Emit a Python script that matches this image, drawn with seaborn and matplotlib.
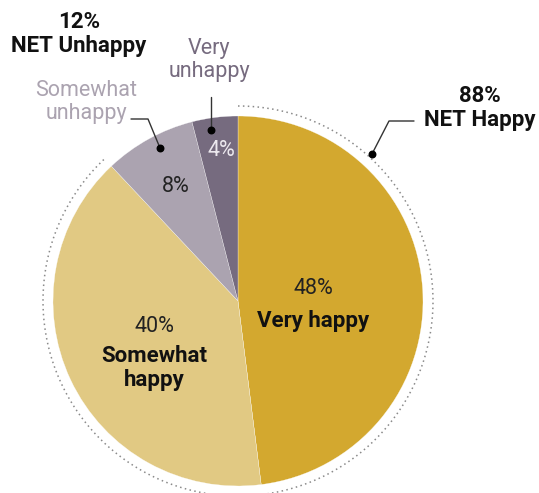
import numpy as np
import seaborn as sns
import matplotlib.pyplot as plt

# Data
categories = ["Very happy", "Somewhat happy", "Somewhat unhappy", "Very unhappy"]
shares = [48, 40, 8, 4]
colors = ["#D3A82F", "#E1C983", "#ABA3B0", "#766B7F"]
net_happy = 88
net_unhappy = 12

sns.set_style("white")
plt.rcParams["font.family"] = ["Roboto", "DejaVu Sans"]

W, H = 539, 493
fig = plt.figure(figsize=(W / 100, H / 100), dpi=100)
ax = fig.add_axes([0, 0, 1, 1])

cx, cy, R = 238, H - 301, 185
ax.pie(shares, colors=colors, startangle=90, counterclock=False,
       center=(cx, cy), radius=R, frame=True,
       wedgeprops=dict(edgecolor="white", linewidth=0.2))
ax.set_xlim(0, W)
ax.set_ylim(0, H)
ax.set_aspect("equal")
ax.axis("off")

# dotted arc around the happy slices
t = np.linspace(90, 90 - net_happy / 100 * 360, 400)
ra = 195
ax.plot(cx + ra * np.cos(np.radians(t)), cy + ra * np.sin(np.radians(t)),
        linestyle=(0, (1, 2.2)), color="#8a8a8a", linewidth=1.1)


def Y(y):
    return H - y


fs, fb = 15.5, 16
ls = 1.12

# slice labels
ax.text(313, Y(288), f"{shares[0]}%", ha="center", va="center", fontsize=fs, color="#222222")
ax.text(313, Y(321), "Very happy", ha="center", va="center", fontsize=fb, fontweight="bold", color="#111111")
ax.text(154, Y(327), f"{shares[1]}%", ha="center", va="center", fontsize=fs, color="#222222")
ax.text(154, Y(368), "Somewhat\nhappy", ha="center", va="center", fontsize=fb, fontweight="bold",
        color="#111111", linespacing=ls)
ax.text(176, Y(186), f"{shares[2]}%", ha="center", va="center", fontsize=fs, color="#222222")
ax.text(221, Y(151), f"{shares[3]}%", ha="center", va="center", fontsize=fs, color="#ECE8EE")

# outside labels
ax.text(209, Y(60), "Very\nunhappy", ha="center", va="center", fontsize=fs, color=colors[3], linespacing=ls)
ax.text(86, Y(102), "Somewhat\nunhappy", ha="center", va="center", fontsize=fs, color=colors[2], linespacing=ls)
ax.text(79, Y(34), f"{net_unhappy}%\nNET Unhappy", ha="center", va="center", fontsize=fb,
        fontweight="bold", color="#111111", linespacing=ls)
ax.text(480, Y(108), f"{net_happy}%\nNET Happy", ha="center", va="center", fontsize=fb,
        fontweight="bold", color="#111111", linespacing=ls)

# leader lines
ax.plot([211, 211], [Y(97), Y(130)], color="#333333", lw=1)
ax.plot([131, 148, 160], [Y(119), Y(119), Y(148)], color="#333333", lw=1)
ax.plot([414, 389, 372], [Y(121), Y(121), Y(154)], color="#333333", lw=1)
ax.scatter([211, 160, 372], [Y(130), Y(148), Y(154)], s=22, color="black", zorder=5)

fig.savefig("out.png", dpi=100)
